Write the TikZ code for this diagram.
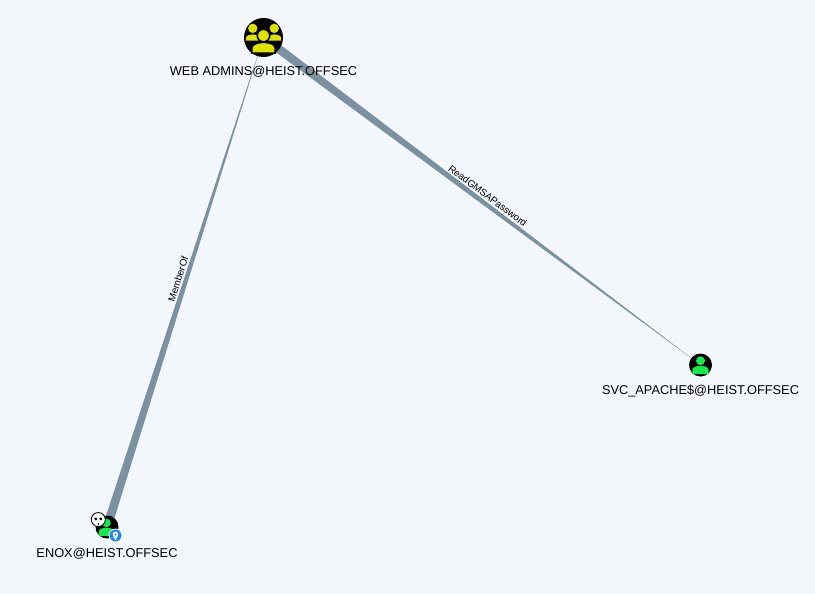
\documentclass[tikz,border=0pt]{standalone}
\usepackage{fontspec}
\setmainfont{Liberation Sans}
\usetikzlibrary{calc, backgrounds}
\definecolor{canvasblue}{HTML}{F3F6FB}
\definecolor{edgeslate}{HTML}{7C919F}
\definecolor{groupyellow}{HTML}{DDE300}
\definecolor{usergreen}{HTML}{17E84B}
\definecolor{badgeblue}{HTML}{1E88E5}
\tikzset{
    hostdot/.style={circle, fill=black, inner sep=0pt, minimum size=#1},
    hostlabel/.style={font=\fontsize{12.8}{15}\selectfont, inner sep=0pt},
    edgelabel/.style={font=\fontsize{9.8}{11}\selectfont, inner sep=0pt, sloped},
    pics/personicon/.style={code={
        \fill[#1] (0,-.37) circle (.39);
        \fill[#1] (-.7,.8) -- (-.7,.42) .. controls (-.7,.16) and (-.3,.07) .. (0,.07)
            .. controls (.3,.07) and (.7,.16) .. (.7,.42) -- (.7,.8) -- cycle;
    }},
    pics/groupicon/.style={code={
        \fill[groupyellow] (-.55,-.47) circle (.24);
        \fill[groupyellow] (.55,-.47) circle (.24);
        \fill[groupyellow] (-.9,.16) -- (-.9,.02) .. controls (-.9,-.1) and (-.7,-.16) .. (-.55,-.16)
            .. controls (-.4,-.16) and (-.2,-.1) .. (-.2,.02) -- (-.2,.16) -- cycle;
        \fill[groupyellow] (.9,.16) -- (.9,.02) .. controls (.9,-.1) and (.7,-.16) .. (.55,-.16)
            .. controls (.4,-.16) and (.2,-.1) .. (.2,.02) -- (.2,.16) -- cycle;
        \filldraw[groupyellow, draw=black, line width=1.5pt] (0,-.1) circle (.32);
        \filldraw[groupyellow, draw=black, line width=1.5pt] (-.6,.8) -- (-.6,.54) .. controls (-.6,.34) and (-.28,.25) .. (0,.25)
            .. controls (.28,.25) and (.6,.34) .. (.6,.54) -- (.6,.8) -- cycle;
    }},
    pics/skullicon/.style={code={
        \filldraw[white, draw=black, line width=.8pt] (0,0) circle (1);
        \fill[black] (-.36,-.08) circle (.22);
        \fill[black] (.36,-.08) circle (.22);
        \fill[black] (-.09,.5) rectangle (-.02,.8);
        \fill[black] (.09,.5) rectangle (.02,.8);
    }},
    pics/pinbadge/.style={code={
        \filldraw[badgeblue, draw=white, line width=.8pt] (0,0) circle (1);
        \fill[white] (0,.68) .. controls (-.5,.1) and (-.55,-.6) .. (0,-.6)
            .. controls (.55,-.6) and (.5,.1) .. (0,.68) -- cycle;
        \fill[badgeblue] (0,-.16) circle (.17);
    }},
}
\begin{document}
\begin{tikzpicture}[x=1pt, y=-1pt]
    \useasboundingbox (0,0) rectangle (815,594);

    \node[hostdot=39pt] (webadmins) at (263.5,37.5) {};
    \node[hostdot=23pt] (svcapache) at (700.5,365) {};
    \node[hostdot=23pt] (enox) at (107,527) {};

    % tapered edges, wide end at the source
    \begin{scope}[on background layer]
        \fill[canvasblue] (0,0) rectangle (815,594);
        \fill[edgeslate] ($(webadmins)!4.5pt!90:(svcapache)$) -- (svcapache.center)
            -- ($(webadmins)!4.5pt!-90:(svcapache)$) -- cycle;
        \fill[edgeslate] ($(enox)!4.5pt!90:(webadmins)$) -- (webadmins.center)
            -- ($(enox)!4.5pt!-90:(webadmins)$) -- cycle;
    \end{scope}
    \path (webadmins) -- node[edgelabel, pos=.495, above=4pt] (readgmsa) {ReadGMSAPassword} (svcapache);
    \path (enox) -- node[edgelabel, pos=.51, above=4pt] (memberof) {MemberOf} (webadmins);

    \pic[scale=19.5] at (webadmins) {groupicon};
    \pic[scale=11.5] at (svcapache) {personicon=usergreen};
    \pic[scale=11] at (106.5,527) {personicon=usergreen};
    \pic[scale=7] at (98.3,519.5) {skullicon};
    \pic[scale=6.5] at (115.5,535.5) {pinbadge};

    \node[hostlabel] (webadmins-label) at (263.5,72) {WEB ADMINS@HEIST.OFFSEC};
    \node[hostlabel] (svcapache-label) at (700.5,391) {SVC\_APACHE\$@HEIST.OFFSEC};
    \node[hostlabel] (enox-label) at (107,554) {ENOX@HEIST.OFFSEC};
\end{tikzpicture}
\end{document}
